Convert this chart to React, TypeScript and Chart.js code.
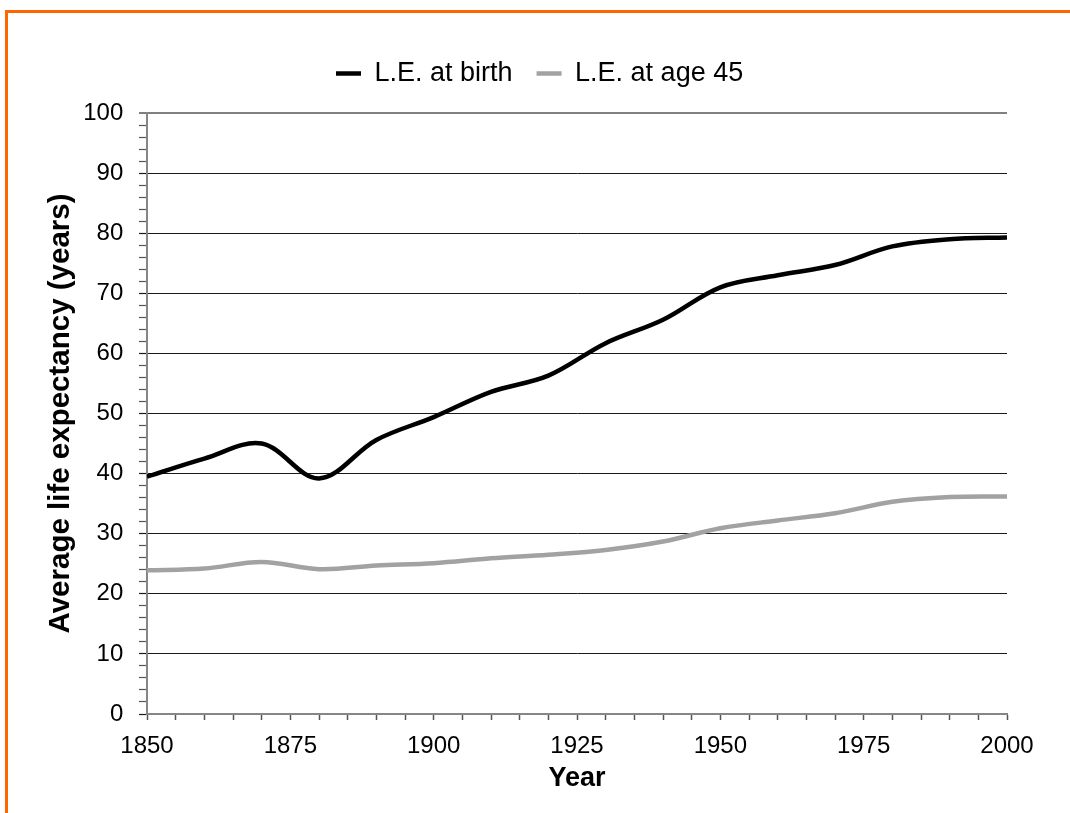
import React, { useEffect, useRef } from "react";
import { Chart, registerables } from "chart.js";

Chart.register(...registerables);

// ---- Data ----
const years = [1850, 1860, 1870, 1880, 1890, 1900, 1910, 1920, 1930, 1940, 1950, 1960, 1970, 1980, 1990, 2000];
const birthLE = [39.5, 42.5, 45.0, 39.2, 45.6, 49.4, 53.6, 56.3, 61.7, 65.6, 71.0, 73.0, 74.7, 77.8, 79.0, 79.3];
const age45LE = [23.9, 24.2, 25.3, 24.1, 24.7, 25.1, 25.9, 26.5, 27.3, 28.7, 30.9, 32.2, 33.4, 35.3, 36.1, 36.2];
const seriesNames = ["L.E. at birth", "L.E. at age 45"];
const xTickLabels = ["1850", "1875", "1900", "1925", "1950", "1975", "2000"];
const yTickLabels = ["0", "10", "20", "30", "40", "50", "60", "70", "80", "90", "100"];
const xAxisTitle = "Year";
const yAxisTitle = "Average life expectancy (years)";

const FONT = "'Liberation Sans', Arial, sans-serif";

export default function App() {
  const canvasRef = useRef<HTMLCanvasElement | null>(null);

  useEffect(() => {
    const canvas = canvasRef.current;
    if (!canvas) return;

    const legendPlugin = {
      id: "legendTweaks",
      beforeUpdate(chart: any) {
        const lg = chart.legend;
        if (lg && !lg.__patched) {
          const orig = lg.fit;
          lg.fit = function () {
            orig.call(this);
            this.height = 78.5;
          };
          lg.__patched = true;
        }
      },
      afterLayout(chart: any) {
        const lg = chart.legend;
        if (lg) {
          lg.left = 336 - 24;
          lg.right = 1070;
          lg.top = 36;
        }
      },
    };

    const chart = new Chart(canvas, {
      type: "line",
      data: {
        datasets: [
          {
            label: seriesNames[0],
            data: years.map((yr, i) => ({ x: yr, y: birthLE[i] })),
            borderColor: "#000000",
            backgroundColor: "#000000",
            borderWidth: 4.5,
            pointRadius: 0,
            tension: 0.35,
          },
          {
            label: seriesNames[1],
            data: years.map((yr, i) => ({ x: yr, y: age45LE[i] })),
            borderColor: "#a2a2a2",
            backgroundColor: "#a2a2a2",
            borderWidth: 4.5,
            pointRadius: 0,
            tension: 0.35,
          },
        ],
      },
      options: {
        responsive: false,
        animation: false,
        devicePixelRatio: 1,
        layout: { padding: { top: 34.5, left: 20, right: 63, bottom: 17.8 } },
        plugins: {
          tooltip: { enabled: false },
          legend: {
            display: true,
            position: "top",
            align: "start",
            labels: {
              boxWidth: 25,
              boxHeight: 4.5,
              padding: 24,
              color: "#000",
              font: { family: FONT, size: 27 },
              generateLabels: (c: any) =>
                c.data.datasets.map((ds: any, i: number) => ({
                  text: ds.label,
                  fillStyle: ds.borderColor,
                  strokeStyle: ds.borderColor,
                  lineWidth: 0,
                  hidden: false,
                  datasetIndex: i,
                  fontColor: "#000",
                })),
            },
          },
        },
        scales: {
          x: {
            type: "linear",
            min: 1850,
            max: 2000,
            afterFit: (s: any) => {
              s.height = 81.2;
            },
            ticks: {
              stepSize: 5,
              autoSkip: false,
              maxRotation: 0,
              minRotation: 0,
              maxTicksLimit: 100,
              padding: 11.5,
              color: "#000",
              font: { family: FONT, size: 24 },
              callback: (v: any) => {
                const s = String(v);
                return xTickLabels.includes(s) ? s : "";
              },
            },
            grid: {
              drawOnChartArea: false,
              drawTicks: true,
              tickLength: 6,
              tickColor: "#555555",
              tickWidth: 1.5,
            },
            border: { color: "#868686", width: 2 },
            title: {
              display: true,
              text: xAxisTitle,
              color: "#000",
              font: { family: FONT, size: 27, weight: "bold" },
              padding: { top: 0, bottom: 0 },
            },
          },
          y: {
            type: "linear",
            min: 0,
            max: 100,
            afterFit: (s: any) => {
              s.width = 127;
            },
            ticks: {
              stepSize: 2,
              autoSkip: false,
              maxTicksLimit: 100,
              padding: 15.7,
              color: "#000",
              font: { family: FONT, size: 24 },
              callback: (v: any) => {
                const s = String(v);
                return yTickLabels.includes(s) ? s : "";
              },
            },
            grid: {
              drawTicks: true,
              tickLength: 8,
              color: (ctx: any) => {
                const v = ctx.tick ? ctx.tick.value : NaN;
                if (v === 100) return "#808080";
                if (v % 10 === 0 && v !== 0) return "#1a1a1a";
                return "rgba(0,0,0,0)";
              },
              lineWidth: (ctx: any) => (ctx.tick && ctx.tick.value === 100 ? 2 : 1),
              tickColor: (ctx: any) => {
                const v = ctx.tick ? ctx.tick.value : NaN;
                if (v === 100) return "#808080";
                if (v % 10 === 0) return "#1a1a1a";
                return "#555555";
              },
              tickWidth: (ctx: any) => (ctx.tick && ctx.tick.value === 100 ? 2 : 1.2),
            },
            border: { color: "#868686", width: 2 },
            title: {
              display: true,
              text: yAxisTitle,
              color: "#000",
              font: { family: FONT, size: 29.5, weight: "bold" },
              padding: { top: 23.3, bottom: 0 },
            },
          },
        },
      },
      plugins: [legendPlugin],
    } as any);

    return () => chart.destroy();
  }, []);

  return (
    <div style={{ position: "absolute", left: 0, top: 0, width: 1070, height: 813, background: "#fff", overflow: "hidden" }}>
      <canvas ref={canvasRef} width={1070} height={813} style={{ position: "absolute", left: 0, top: 0, width: 1070, height: 813 }} />
      <div
        style={{
          position: "absolute",
          left: 5,
          top: 10,
          width: 1065,
          height: 803,
          boxSizing: "border-box",
          borderTop: "3px solid #ff6600",
          borderLeft: "3px solid #ff6600",
          pointerEvents: "none",
        }}
      />
    </div>
  );
}
